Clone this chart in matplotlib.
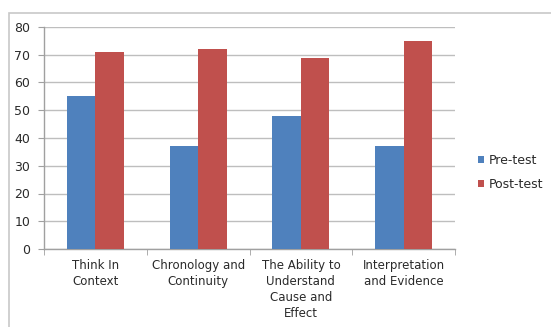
import matplotlib
matplotlib.use("Agg")
import matplotlib.pyplot as plt
from matplotlib.patches import Rectangle
import numpy as np

categories = ["Think In\nContext", "Chronology and\nContinuity",
              "The Ability to\nUnderstand\nCause and\nEffect",
              "Interpretation\nand Evidence"]
pre_test = [55, 37, 48, 37]
post_test = [71, 72, 69, 75]
series_names = ["Pre-test", "Post-test"]
y_ticks = [0, 10, 20, 30, 40, 50, 60, 70, 80]

blue = "#4F81BD"
red = "#C0504D"
text_color = "#2A2A2A"

W, H = 551, 327
fig = plt.figure(figsize=(W / 100, H / 100), dpi=100)
fig.patch.set_facecolor("white")

# chart frame
fig.add_artist(Rectangle((9 / W, -0.02), 1.0, (H - 13) / H + 0.02,
                         transform=fig.transFigure, fill=False,
                         edgecolor="#C8C8C8", linewidth=1.2))

ax = fig.add_axes([44 / W, 1 - 249 / H, (455 - 44) / W, (249 - 27) / H])
x = np.arange(len(categories))
bw = 0.277
ax.bar(x - bw / 2, pre_test, bw, color=blue, label=series_names[0], zorder=3)
ax.bar(x + bw / 2, post_test, bw, color=red, label=series_names[1], zorder=3)

ax.set_xlim(-0.5, len(categories) - 0.5)
ax.set_ylim(0, 80)
ax.set_yticks(y_ticks)
ax.yaxis.grid(True, color="#BEBEBE", linewidth=1.0, zorder=0)
ax.set_axisbelow(True)

for s in ["top", "right"]:
    ax.spines[s].set_visible(False)
for s in ["left", "bottom"]:
    ax.spines[s].set_color("#A0A0A0")
    ax.spines[s].set_linewidth(1.0)

ax.tick_params(axis="y", length=4, color="#A0A0A0", labelsize=9,
               labelcolor=text_color, pad=6)
ax.set_xticks(x)
ax.set_xticklabels(categories, fontsize=8.5, color=text_color, linespacing=1.3)
ax.tick_params(axis="x", length=0, pad=7)
ax.set_xticks(np.arange(len(categories) + 1) - 0.5, minor=True)
ax.tick_params(axis="x", which="minor", length=4, color="#A0A0A0")

leg = ax.legend(loc="upper left", bbox_to_anchor=(467 / W, 1 - 143 / H),
                bbox_transform=fig.transFigure, frameon=False,
                fontsize=9, handlelength=0.45, handleheight=0.45,
                handletextpad=0.4, labelspacing=0.85, labelcolor=text_color)

fig.savefig("out.png", dpi=100, facecolor="white")
